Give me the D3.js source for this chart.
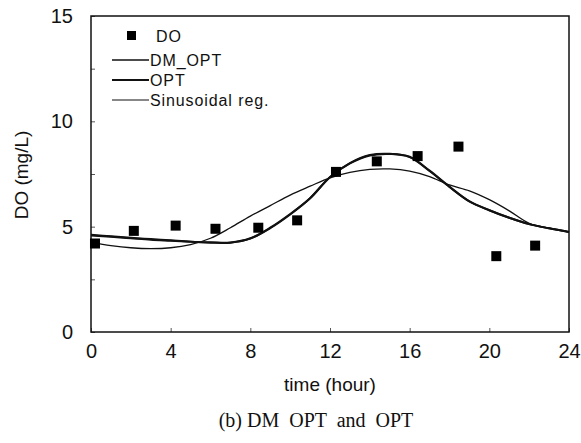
<!DOCTYPE html>
<html>
<head>
<meta charset="utf-8">
<script src="https://cdn.jsdelivr.net/npm/d3@7"></script>
<style>
  body { margin: 0; background: #fff; }
  svg text { font-family: "Liberation Sans", Arial, sans-serif; fill: #111; }
</style>
</head>
<body>
<div class="chart"></div>
<script>
var width = 581, height = 443;
var margin = { top: 16, right: 12, bottom: 111, left: 91 };

// measured DO
var obs_time = [0.2, 2.15, 4.25, 6.25, 8.4, 10.35, 12.3, 14.35, 16.4, 18.45, 20.35, 22.3];
var obs_do   = [4.2, 4.8, 5.05, 4.9, 4.95, 5.3, 7.6, 8.1, 8.35, 8.8, 3.6, 4.1];

// model curves, hourly
var curve_time = [0,1,2,3,4,5,6,7,8,9,10,11,12,13,14,15,16,17,18,19,20,21,22,23,24];
var dm_opt = [4.62,4.54,4.47,4.41,4.35,4.29,4.26,4.25,4.45,4.95,5.6,6.35,7.35,8.0,8.38,8.45,8.32,7.66,6.9,6.2,5.78,5.42,5.12,4.92,4.75];
var opt    = [4.58,4.52,4.45,4.38,4.33,4.28,4.24,4.24,4.43,4.93,5.58,6.35,7.36,8.02,8.4,8.46,8.3,7.64,6.88,6.2,5.78,5.42,5.12,4.92,4.75];
var sin_reg = [4.25,4.1,4.0,3.96,4.0,4.15,4.45,4.95,5.5,6.0,6.5,6.92,7.32,7.58,7.72,7.74,7.64,7.38,6.98,6.7,6.28,5.75,5.16,4.93,4.75];

var x_ticks = [0,4,8,12,16,20,24];
var y_ticks = [0,2.5,5,7.5,10,12.5,15];

var svg = d3.select(".chart").append("svg")
    .attr("width", width)
    .attr("height", height);

var x = d3.scaleLinear().domain([0, 24]).range([margin.left, width - margin.right]);
var y = d3.scaleLinear().domain([0, 15]).range([height - margin.bottom, margin.top]);

// axes (ticks inside the frame)
svg.append("g")
    .attr("transform", "translate(" + margin.left + ",0)")
    .call(d3.axisLeft(y).tickValues(y_ticks).tickSizeInner(-4).tickSizeOuter(0).tickPadding(18)
        .tickFormat(d => d % 5 == 0 ? d : ""))
    .call(g => g.select(".domain").remove())
    .call(g => g.selectAll("line").attr("stroke", "#555"))
    .call(g => g.selectAll("text").attr("font-size", "20px").attr("fill", "#111"));

svg.append("g")
    .attr("transform", "translate(0," + (height - margin.bottom) + ")")
    .call(d3.axisBottom(x).tickValues(x_ticks).tickSizeInner(-4).tickSizeOuter(0).tickPadding(12))
    .call(g => g.select(".domain").remove())
    .call(g => g.selectAll("line").attr("stroke", "#555"))
    .call(g => g.selectAll("text").attr("font-size", "20px").attr("fill", "#111"));

// frame
svg.append("rect")
    .attr("x", margin.left)
    .attr("y", margin.top)
    .attr("width", width - margin.left - margin.right)
    .attr("height", height - margin.top - margin.bottom)
    .attr("fill", "none")
    .attr("stroke", "#111")
    .attr("stroke-width", 1.5);

// lines
var line = d3.line()
    .curve(d3.curveCatmullRom)
    .x(d => x(d[0]))
    .y(d => y(d[1]));

var series = [
    { name: "Sinusoidal reg.", values: sin_reg, w: 1.3 },
    { name: "DM_OPT", values: dm_opt, w: 2 },
    { name: "OPT", values: opt, w: 2 }
];

svg.append("g").selectAll("path")
    .data(series)
    .enter()
    .append("path")
    .attr("d", d => line(curve_time.map((t, i) => [t, d.values[i]])))
    .attr("fill", "none")
    .attr("stroke", "#111")
    .attr("stroke-width", d => d.w);

// points
var sq = 10;
svg.append("g").selectAll("rect")
    .data(obs_time.map((t, i) => [t, obs_do[i]]))
    .enter()
    .append("rect")
    .attr("x", d => x(d[0]) - sq / 2)
    .attr("y", d => y(d[1]) - sq / 2)
    .attr("width", sq)
    .attr("height", sq)
    .attr("fill", "#000");

// legend
var legend = svg.append("g");
legend.append("rect")
    .attr("x", 127).attr("y", 31).attr("width", 9).attr("height", 9).attr("fill", "#000");
legend.append("text").attr("x", 156).attr("y", 42)
    .attr("font-size", "16px").attr("letter-spacing", "0.9px").text("DO");

var leg_items = [
    { name: "DM_OPT", y: 60, w: 1.6 },
    { name: "OPT", y: 80, w: 2 },
    { name: "Sinusoidal reg.", y: 100, w: 1.2 }
];
legend.selectAll("line.leg")
    .data(leg_items)
    .enter()
    .append("line")
    .attr("x1", 112).attr("x2", 149)
    .attr("y1", d => d.y).attr("y2", d => d.y)
    .attr("stroke", "#111")
    .attr("stroke-width", d => d.w);
legend.selectAll("text.leg")
    .data(leg_items)
    .enter()
    .append("text")
    .attr("class", "leg")
    .attr("x", 150)
    .attr("y", d => d.y + 6)
    .attr("font-size", "16px")
    .attr("letter-spacing", "0.9px")
    .text(d => d.name);

// axis titles
svg.append("text")
    .attr("x", (margin.left + width - margin.right) / 2)
    .attr("y", 391)
    .attr("text-anchor", "middle")
    .attr("font-size", "19px")
    .text("time (hour)");

svg.append("text")
    .attr("transform", "translate(28,175) rotate(-90)")
    .attr("text-anchor", "middle")
    .attr("font-size", "19px")
    .text("DO (mg/L)");

svg.append("text")
    .attr("x", 316)
    .attr("y", 427)
    .attr("text-anchor", "middle")
    .attr("font-size", "20px")
    .attr("xml:space", "preserve")
    .style("font-family", "'Liberation Serif', 'Times New Roman', serif")
    .text("(b) DM  OPT  and  OPT");
</script>
</body>
</html>
